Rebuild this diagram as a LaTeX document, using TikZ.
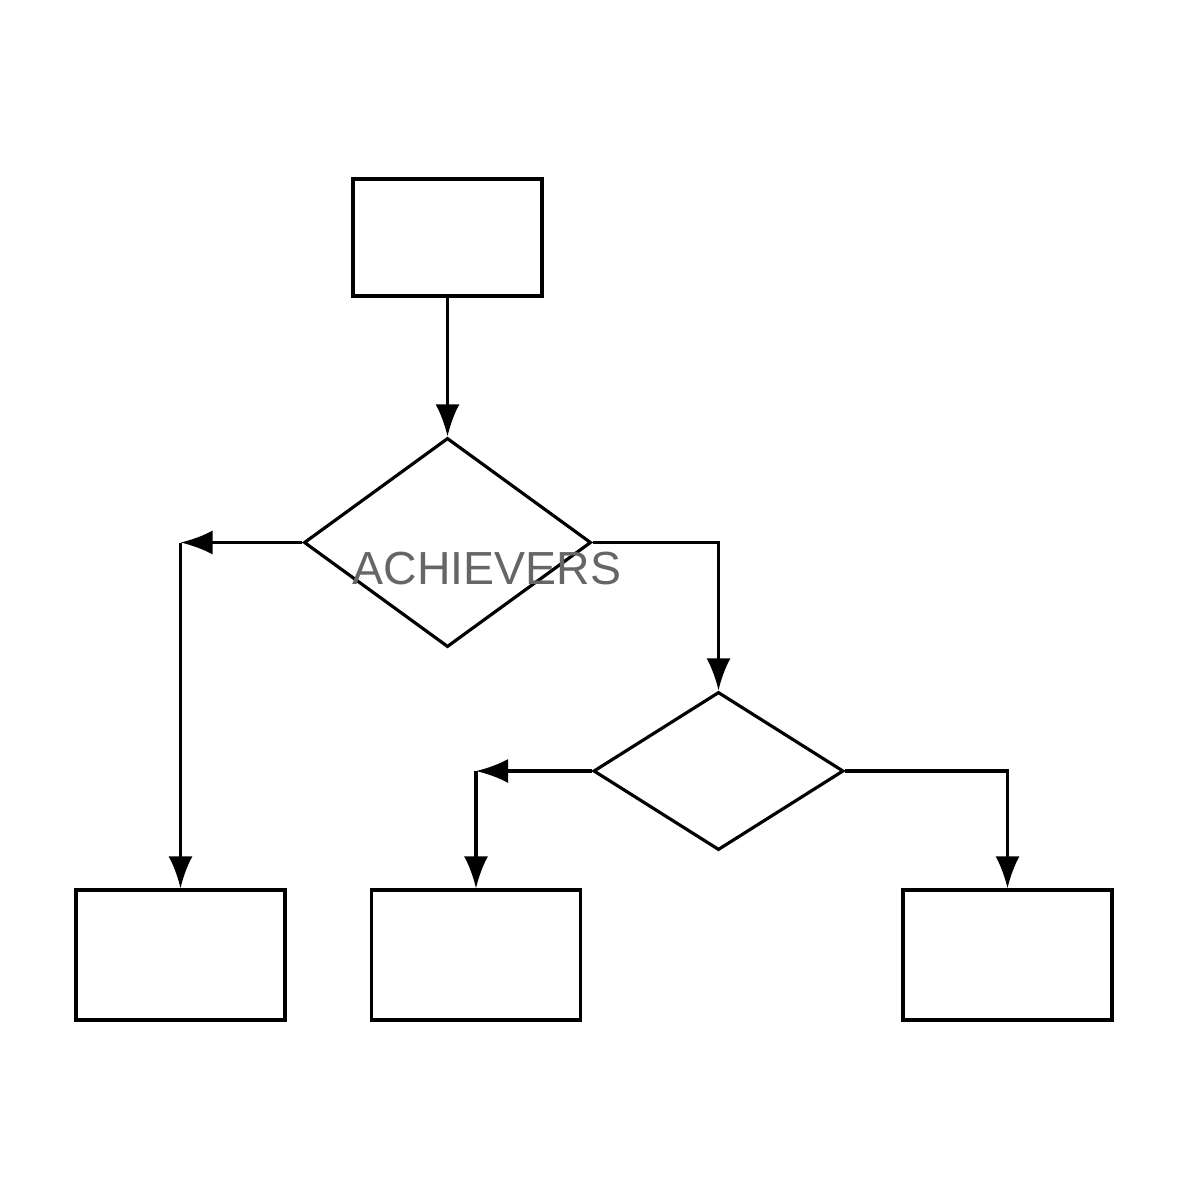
\documentclass[tikz,border=0pt]{standalone}
\usepackage{fontspec}
\setmainfont{Liberation Sans}
\usetikzlibrary{shapes.geometric,arrows.meta}
\begin{document}
\begin{tikzpicture}[x=0.01cm,y=-0.01cm,
  box/.style={draw,line width=0.9pt,minimum width=2.09cm,minimum height=1.30cm,inner sep=0pt},
  decision/.style={draw,line width=0.9pt,shape=diamond,inner sep=0pt},
  conn/.style={line width=0.9pt,-{Latex[length=0.32cm,width=0.24cm]}}]
\fill[white] (0,0) rectangle (1200,1200);
\useasboundingbox (0,0) rectangle (1200,1200);
\node[box,minimum width=1.89cm,minimum height=1.17cm] (start) at (447.5,237.5) {};
\node[decision,minimum width=2.87cm,minimum height=2.09cm] (d1) at (447.5,542.5) {};
\node[decision,minimum width=2.50cm,minimum height=1.58cm] (d2) at (718.5,771) {};
\node[box] (b1) at (180.5,955) {};
\node[box] (b2) at (476,955) {};
\node[box] (b3) at (1007.5,955) {};
\coordinate (c1) at (180.5,542.5);
\coordinate (c3) at (476,771);
\draw[conn] (start.south) -- (d1.north);
\draw[conn] (d1.west) -- (c1);
\draw[conn] (c1) -- (b1.north);
\draw[conn,line join=miter] (d1.east) -| (d2.north);
\draw[conn] (d2.west) -- (c3);
\draw[conn] (c3) -- (b2.north);
\draw[conn,line join=miter] (d2.east) -| (b3.north);
\node[text=black!60,font=\fontsize{13.2pt}{15pt}\selectfont,inner sep=0pt] (wm) at (487,569) {ACHIEVERS};
\end{tikzpicture}
\end{document}
